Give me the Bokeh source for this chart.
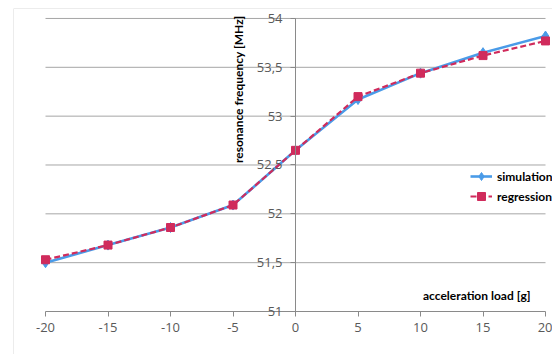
import math
from bokeh.plotting import figure
from bokeh.models import (Range1d, LinearAxis, FixedTicker, CustomJSTickFormatter,
                          Legend, LegendItem, Label, Span)
from bokeh.embed import file_html
from bokeh.resources import INLINE

# ---- data ----
acceleration = [-20, -15, -10, -5, 0, 5, 10, 15, 20]
simulation = [51.50, 51.68, 51.86, 52.09, 52.65, 53.17, 53.44, 53.65, 53.82]
regression = [51.53, 51.68, 51.86, 52.09, 52.65, 53.20, 53.44, 53.62, 53.77]
x_ticks = [-20, -15, -10, -5, 0, 5, 10, 15, 20]
y_ticks = [51, 51.5, 52, 52.5, 53, 53.5, 54]
x_title = "acceleration load [g]"
y_title = "resonance frequency [MHz]"
series_names = ["simulation", "regression"]

BLUE = "#4a9be8"
RED = "#d02b5c"
AXIS = "#8a8a8a"
GRID = "#a6a6a6"
TICKTXT = "#595959"

X0, X1 = -22.56, 20.56
Y0, Y1 = 50.56, 54.102

p = figure(width=552, height=354, output_backend="svg", toolbar_location=None,
           x_axis_type=None, y_axis_type=None,
           x_range=Range1d(X0, X1), y_range=Range1d(Y0, Y1),
           min_border=0, min_border_left=13, min_border_top=8)
p.outline_line_color = None
p.background_fill_color = "white"
p.border_fill_color = "white"
p.xgrid.visible = False
p.ygrid.visible = False

# outer chart-area border (left & top)
p.add_layout(Span(location=X0, dimension="height", line_color="#d9d9d9", line_width=1))
p.add_layout(Span(location=Y1, dimension="width", line_color="#d9d9d9", line_width=1))

# horizontal gridlines
gy = [v for v in y_ticks if v != min(y_ticks)]
p.segment(x0=[min(x_ticks)] * len(gy), x1=[max(x_ticks)] * len(gy), y0=gy, y1=gy,
          line_color=GRID, line_width=1)

fmt = CustomJSTickFormatter(code="return tick.toString().replace('.', ',');")

# x axis at y=51
xax = LinearAxis(fixed_location=min(y_ticks), bounds=(min(x_ticks), max(x_ticks)),
                 ticker=FixedTicker(ticks=x_ticks), formatter=fmt)
xax.axis_line_color = AXIS
xax.major_tick_line_color = AXIS
xax.major_tick_out = 5
xax.major_tick_in = 0
xax.minor_tick_line_color = None
xax.major_label_text_font = "Open Sans"
xax.major_label_text_font_size = "13px"
xax.major_label_text_color = TICKTXT
xax.major_label_standoff = 6
p.add_layout(xax, "below")

# y axis at x=0
yax = LinearAxis(fixed_location=0, bounds=(min(y_ticks), max(y_ticks)),
                 ticker=FixedTicker(ticks=y_ticks), formatter=fmt)
yax.axis_line_color = AXIS
yax.major_tick_line_color = AXIS
yax.major_tick_out = 5
yax.major_tick_in = 0
yax.minor_tick_line_color = None
yax.major_label_text_font = "Open Sans"
yax.major_label_text_font_size = "13px"
yax.major_label_text_color = TICKTXT
yax.major_label_standoff = 8
if "major_label_background_fill_color" in yax.properties():
    yax.major_label_background_fill_color = "white"
p.add_layout(yax, "left")

# series
l1 = p.line(acceleration, simulation, line_color=BLUE, line_width=2.6)
s1 = p.scatter(acceleration, simulation, marker="diamond", size=10,
               fill_color=BLUE, line_color=BLUE)
l2 = p.line(acceleration, regression, line_color=RED, line_width=2.2, line_dash="6 3")
s2 = p.scatter(acceleration, regression, marker="square", size=8,
               fill_color=RED, line_color=RED)

legend = Legend(items=[LegendItem(label=series_names[0], renderers=[l1, s1]),
                       LegendItem(label=series_names[1], renderers=[l2, s2])],
                location=(457, 148))
legend.label_text_font = "Lato"
legend.label_text_font_style = "bold"
legend.label_text_font_size = "12px"
legend.label_text_color = "black"
legend.label_standoff = 5
legend.glyph_width = 22
legend.glyph_height = 20
legend.label_height = 20
legend.spacing = 0
legend.padding = 0
legend.margin = 0
legend.border_line_color = None
legend.background_fill_alpha = 0
p.add_layout(legend, "center")

# axis titles
p.add_layout(Label(x=18.8, y=51.16, text=x_title, text_align="right",
                   text_baseline="middle", text_font="Lato", text_font_style="bold",
                   text_font_size="12px", text_color="black"))
p.add_layout(Label(x=-4.56, y=54.03, text=y_title, angle=math.pi / 2,
                   text_align="right", text_baseline="middle", text_font="Lato",
                   text_font_style="bold", text_font_size="12px", text_color="black"))

open("out.html", "w").write(file_html(p, INLINE))
